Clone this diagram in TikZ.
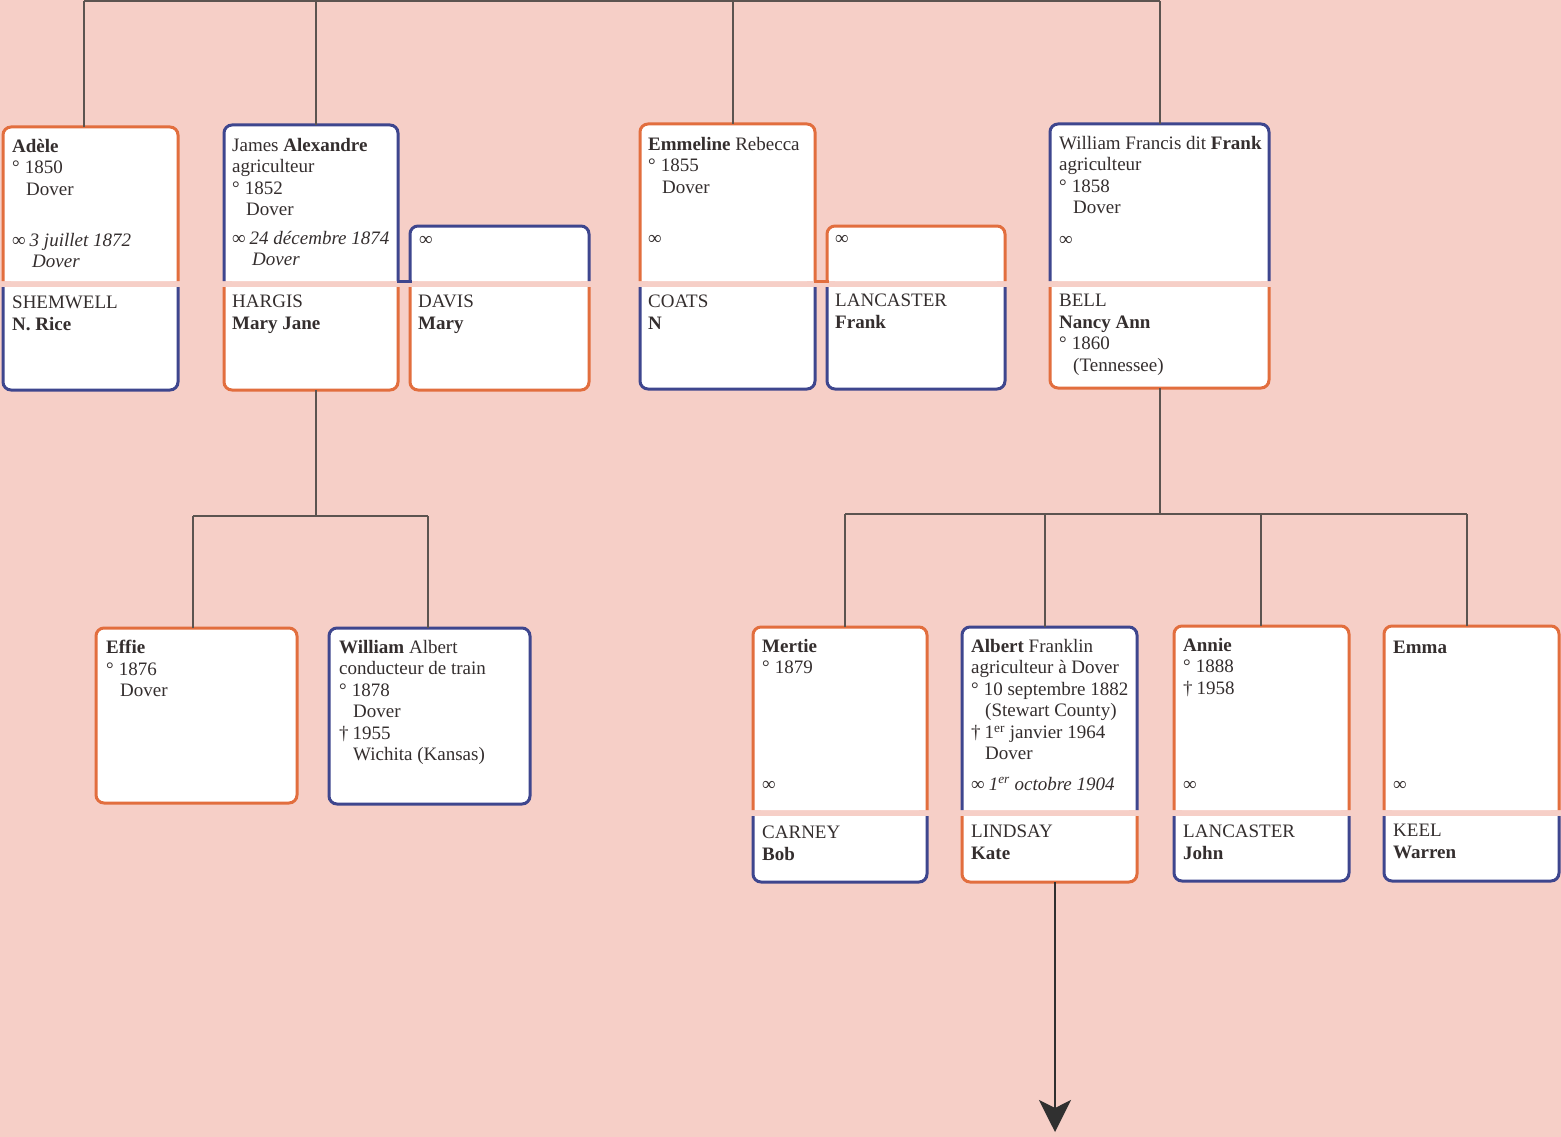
\documentclass[tikz,border=0pt]{standalone}
\usepackage{fontspec}
\setmainfont{Liberation Serif}
\usetikzlibrary{arrows.meta}

\definecolor{paper}{RGB}{246,207,199}
\definecolor{fem}{RGB}{226,110,62}
\definecolor{masc}{RGB}{62,70,142}
\definecolor{linkc}{RGB}{92,84,80}
\definecolor{ink}{RGB}{52,46,46}
\definecolor{arrowc}{RGB}{48,48,48}

% symbols used in the family cards
\newcommand\bmark{°\hspace{5pt}}
\newcommand\dmark{†\hspace{4pt}}
\newcommand\mmark{∞\hspace{4pt}}
\newcommand\pl{\hspace*{14pt}}
\newcommand\mpl{\hspace*{20pt}}

\tikzset{
  part/.style={inner sep=0pt, outer sep=0pt, anchor=north west},
  rim/.style={line width=3pt},
  link/.style={draw=linkc, line width=1.5pt},
  % the given point sits just above the baseline of the first line
  txt/.style={anchor=north west, yshift=12pt, inner sep=0pt, align=left, text=ink,
              font=\fontsize{19}{21.5}\selectfont, execute at begin node={\strut}},
}

% upper half of a card: rounded top, open bottom
\newcommand\headpart[6]{%
  \node[part, minimum width={(#4)-(#2)}, minimum height={(#5)-(#3)}] (#1) at (#2,#3) {};
  \fill[white, rounded corners=8pt] (#1.north west) rectangle (#1.south east);
  \fill[white] ([yshift=10pt]#1.south west) rectangle (#1.south east);
  \draw[rim, draw=#6, rounded corners=8pt]
    (#1.south west) -- (#1.north west) -- (#1.north east) -- (#1.south east);
}
% lower half of a card: open top, rounded bottom
\newcommand\tailpart[6]{%
  \node[part, minimum width={(#4)-(#2)}, minimum height={(#5)-(#3)}] (#1) at (#2,#3) {};
  \fill[white, rounded corners=8pt] (#1.north west) rectangle (#1.south east);
  \fill[white] (#1.north west) rectangle ([yshift=-10pt]#1.north east);
  \draw[rim, draw=#6, rounded corners=8pt]
    (#1.north west) -- (#1.south west) -- (#1.south east) -- (#1.north east);
}
% single card
\newcommand\wholecard[6]{%
  \node[part, minimum width={(#4)-(#2)}, minimum height={(#5)-(#3)},
        fill=white, draw=#6, rim, rounded corners=8pt] (#1) at (#2,#3) {};
}

\begin{document}
\begin{tikzpicture}[x=1pt, y=-1pt]
\useasboundingbox (0,0) rectangle (1561,1137);
\fill[paper] (0,0) rectangle (1561,1137);

% ---------- connector points ----------
\coordinate (dA) at (84,1);
\coordinate (dB) at (316,1);
\coordinate (dC) at (733,1);
\coordinate (dD) at (1160,1);
\coordinate (busBl) at (193,516);
\coordinate (busB)  at (316,516);
\coordinate (busBr) at (428,516);
\coordinate (busDl) at (845,514);
\coordinate (busD)  at (1160,514);
\coordinate (busD2) at (1045,514);
\coordinate (busD3) at (1261,514);
\coordinate (busDr) at (1467,514);
\coordinate (next)  at (1055,1132);

% ---------- generation 1 ----------
\headpart{adele}{3}{127}{178}{281}{fem}
\tailpart{shemwell}{3}{287}{178}{390}{masc}

\headpart{james}{224}{125}{398}{281}{masc}
\tailpart{hargis}{224}{287}{398}{390}{fem}
\headpart{davism}{410}{226}{589}{281}{masc}
\tailpart{davis}{410}{287}{589}{390}{fem}
\draw[rim, draw=masc, line cap=rect] (james.south east) -- (davism.south west);

\headpart{emmeline}{640}{124}{815}{281}{fem}
\tailpart{coats}{640}{287}{815}{389}{masc}
\headpart{lancm}{827}{226}{1005}{281}{fem}
\tailpart{lancaster}{827}{287}{1005}{389}{masc}
\draw[rim, draw=fem, line cap=rect] (emmeline.south east) -- (lancm.south west);

\headpart{william}{1050}{124}{1269}{281}{masc}
\tailpart{bell}{1050}{287}{1269}{388}{fem}

% ---------- generation 2 ----------
\wholecard{effie}{96}{628}{297}{803}{fem}
\wholecard{walbert}{329}{628}{530}{804}{masc}

\headpart{mertie}{753}{627}{927}{810}{fem}
\tailpart{carney}{753}{816}{927}{882}{masc}
\headpart{albert}{962}{627}{1137}{810}{masc}
\tailpart{lindsay}{962}{816}{1137}{882}{fem}
\headpart{annie}{1174}{626}{1349}{810}{fem}
\tailpart{lancj}{1174}{816}{1349}{881}{masc}
\headpart{emma}{1384}{626}{1559}{810}{fem}
\tailpart{keel}{1384}{816}{1559}{881}{masc}

% ---------- lines of descent ----------
\draw[link] (dA) -- (dD);
\draw[link] (dA) -- (dA |- adele.north);
\draw[link] (dB) -- (dB |- james.north);
\draw[link] (dC) -- (dC |- emmeline.north);
\draw[link] (dD) -- (dD |- william.north);

\draw[link] (busB |- hargis.south) -- (busB);
\draw[link] (busBl) -- (busBr);
\draw[link] (busBl) -- (busBl |- effie.north);
\draw[link] (busBr) -- (busBr |- walbert.north);

\draw[link] (busD |- bell.south) -- (busD);
\draw[link] (busDl) -- (busDr);
\draw[link] (busDl) -- (busDl |- mertie.north);
\draw[link] (busD2) -- (busD2 |- albert.north);
\draw[link] (busD3) -- (busD3 |- annie.north);
\draw[link] (busDr) -- (busDr |- emma.north);

\draw[link, draw=arrowc, -{Stealth[length=32pt, width=32pt, inset=8pt]}]
  (next |- lindsay.south) -- (next);

% ---------- texts ----------
\node[txt] (tAdele) at (12,151) {\textbf{Adèle}\\\bmark 1850\\\pl Dover};
\node[txt] (mAdele) at (12,245) {\mmark\textit{3 juillet 1872}\\\mpl\textit{Dover}};
\node[txt] (tShem) at (12,308) {SHEMWELL\\\textbf{N. Rice}};

\node[txt] (tJames) at (232,150) {James \textbf{Alexandre}\\agriculteur\\\bmark 1852\\\pl Dover};
\node[txt] (mJames) at (232,243) {\mmark\textit{24 décembre 1874}\\\mpl\textit{Dover}};
\node[txt] (tHargis) at (232,307) {HARGIS\\\textbf{Mary Jane}};
\node[txt] (mDavis) at (419,242) {∞};
\node[txt] (tDavis) at (418,307) {DAVIS\\\textbf{Mary}};

\node[txt] (tEmm) at (648,149) {\textbf{Emmeline} Rebecca\\\bmark 1855\\\pl Dover};
\node[txt] (mEmm) at (648,241) {∞};
\node[txt] (tCoats) at (648,307) {COATS\\\textbf{N}};
\node[txt] (mLanc) at (835,241) {∞};
\node[txt] (tLanc) at (835,306) {LANCASTER\\\textbf{Frank}};

\node[txt] (tWill) at (1059,148) {William Francis dit \textbf{Frank}\\agriculteur\\\bmark 1858\\\pl Dover};
\node[txt] (mWill) at (1059,242) {∞};
\node[txt] (tBell) at (1059,306) {BELL\\\textbf{Nancy Ann}\\\bmark 1860\\\pl (Tennessee)};

\node[txt] (tEffie) at (106,652) {\textbf{Effie}\\\bmark 1876\\\pl Dover};
\node[txt] (tWA) at (339,652) {\textbf{William} Albert\\conducteur de train\\\bmark 1878\\\pl Dover\\\dmark 1955\\\pl Wichita (Kansas)};

\node[txt] (tMertie) at (762,651) {\textbf{Mertie}\\\bmark 1879};
\node[txt] (mMertie) at (762,787) {∞};
\node[txt] (tCarney) at (762,838) {CARNEY\\\textbf{Bob}};

\node[txt] (tAlbert) at (971,651) {\textbf{Albert} Franklin\\agriculteur à Dover\\\bmark 10 septembre 1882\\\pl (Stewart County)\\\dmark 1\textsuperscript{er} janvier 1964\\\pl Dover};
\node[txt] (mAlbert) at (971,787) {\mmark\textit{1\textsuperscript{er} octobre 1904}};
\node[txt] (tLindsay) at (971,837) {LINDSAY\\\textbf{Kate}};

\node[txt] (tAnnie) at (1183,650) {\textbf{Annie}\\\bmark 1888\\\dmark 1958};
\node[txt] (mAnnie) at (1183,787) {∞};
\node[txt] (tLancJ) at (1183,837) {LANCASTER\\\textbf{John}};

\node[txt] (tEmma) at (1393,650) {\textbf{Emma}};
\node[txt] (mEmma) at (1393,787) {∞};
\node[txt] (tKeel) at (1393,836) {KEEL\\\textbf{Warren}};
\end{tikzpicture}
\end{document}
